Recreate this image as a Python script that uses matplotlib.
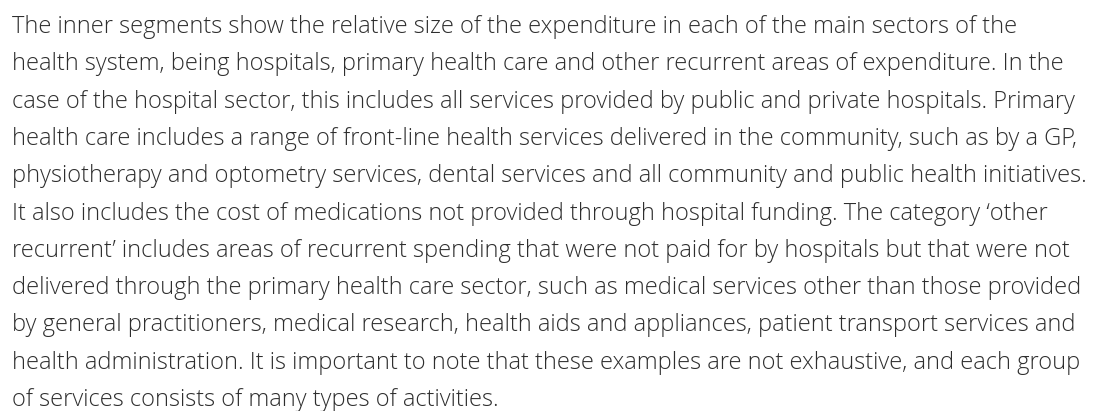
import matplotlib
matplotlib.use("Agg")
import matplotlib.pyplot as plt

lines = [
    "The inner segments show the relative size of the expenditure in each of the main sectors of the",
    "health system, being hospitals, primary health care and other recurrent areas of expenditure. In the",
    "case of the hospital sector, this includes all services provided by public and private hospitals. Primary",
    "health care includes a range of front-line health services delivered in the community, such as by a GP,",
    "physiotherapy and optometry services, dental services and all community and public health initiatives.",
    "It also includes the cost of medications not provided through hospital funding. The category \u2018other",
    "recurrent\u2019 includes areas of recurrent spending that were not paid for by hospitals but that were not",
    "delivered through the primary health care sector, such as medical services other than those provided",
    "by general practitioners, medical research, health aids and appliances, patient transport services and",
    "health administration. It is important to note that these examples are not exhaustive, and each group",
    "of services consists of many types of activities.",
]

W, H = 1100, 411
fig = plt.figure(figsize=(W / 100, H / 100), dpi=100)
fig.patch.set_facecolor("white")

# pixel positions of the first baseline and line pitch
first_baseline = 33
spacing = 37.3
for i, txt in enumerate(lines):
    y = first_baseline + i * spacing
    fig.text(12 / W, 1 - y / H, txt, ha="left", va="baseline",
             fontsize=17.05, family="Open Sans", fontweight="light",
             color="#2e2e2e")

fig.savefig("out.png", dpi=100)
